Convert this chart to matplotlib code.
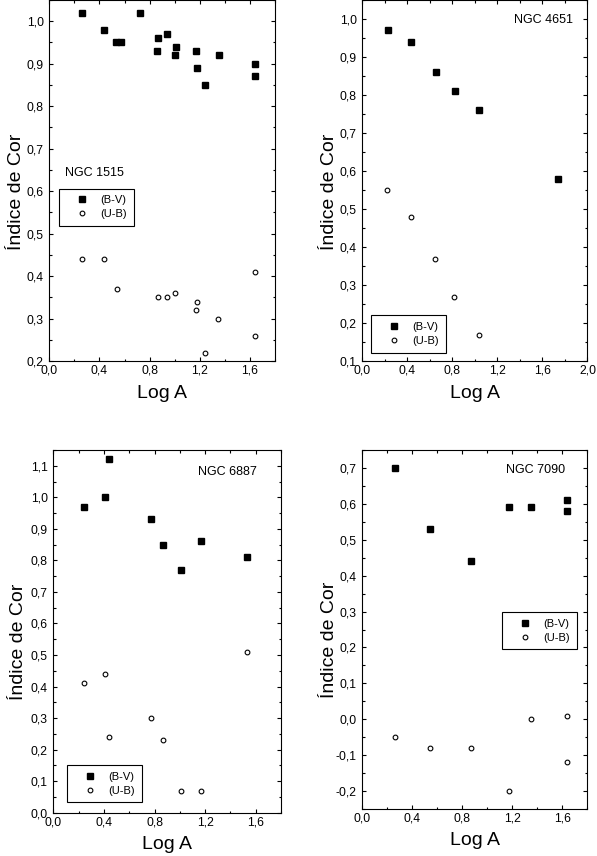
import matplotlib
matplotlib.use("Agg")
import matplotlib.pyplot as plt
from matplotlib.ticker import MultipleLocator, FuncFormatter

plt.rcParams['font.family'] = ['Liberation Sans', 'DejaVu Sans']

# NGC 1515
n1515_bv_x = [0.26, 0.44, 0.53, 0.57, 0.72, 0.87, 0.86, 0.94, 1.01, 1.00, 1.17, 1.18, 1.24, 1.35, 1.64, 1.64]
n1515_bv_y = [1.02, 0.98, 0.95, 0.95, 1.02, 0.96, 0.93, 0.97, 0.94, 0.92, 0.93, 0.89, 0.85, 0.92, 0.90, 0.87]
n1515_ub_x = [0.26, 0.44, 0.54, 0.87, 0.94, 1.00, 1.18, 1.17, 1.24, 1.345, 1.64, 1.64]
n1515_ub_y = [0.44, 0.44, 0.37, 0.35, 0.35, 0.36, 0.34, 0.32, 0.22, 0.30, 0.41, 0.26]

# NGC 4651
n4651_bv_x = [0.23, 0.43, 0.65, 0.82, 1.04, 1.74]
n4651_bv_y = [0.97, 0.94, 0.86, 0.81, 0.76, 0.58]
n4651_ub_x = [0.22, 0.43, 0.645, 0.81, 1.04]
n4651_ub_y = [0.55, 0.48, 0.37, 0.27, 0.17]

# NGC 6887
n6887_bv_x = [0.24, 0.41, 0.44, 0.77, 0.87, 1.01, 1.17, 1.53]
n6887_bv_y = [0.97, 1.00, 1.12, 0.93, 0.85, 0.77, 0.86, 0.81]
n6887_ub_x = [0.24, 0.41, 0.44, 0.77, 0.87, 1.01, 1.17, 1.53]
n6887_ub_y = [0.41, 0.44, 0.24, 0.30, 0.23, 0.07, 0.07, 0.51]

# NGC 7090
n7090_bv_x = [0.26, 0.54, 0.87, 1.17, 1.35, 1.64, 1.64]
n7090_bv_y = [0.70, 0.53, 0.44, 0.59, 0.59, 0.61, 0.58]
n7090_ub_x = [0.26, 0.54, 0.87, 1.17, 1.35, 1.64, 1.64]
n7090_ub_y = [-0.05, -0.08, -0.08, -0.20, 0.00, 0.01, -0.12]

fig = plt.figure(figsize=(5.97, 8.56), dpi=100)

comma = FuncFormatter(lambda v, p: ('%.1f' % v).replace('.', ','))


def panel(rect, bvx, bvy, ubx, uby, xlim, ylim, name, name_xy, leg_xy, ylab_x, xlab_y):
    ax = fig.add_axes(rect)
    ax.plot(bvx, bvy, 's', color='black', markersize=4.3, linestyle='none', label='(B-V)')
    ax.plot(ubx, uby, 'o', markerfacecolor='white', markeredgecolor='black',
            markersize=3.4, markeredgewidth=0.8, linestyle='none', label='(U-B)')
    ax.set_xlim(*xlim)
    ax.set_ylim(*ylim)
    ax.xaxis.set_major_locator(MultipleLocator(0.4))
    ax.xaxis.set_minor_locator(MultipleLocator(0.2))
    ax.yaxis.set_major_locator(MultipleLocator(0.1))
    ax.yaxis.set_minor_locator(MultipleLocator(0.05))
    ax.xaxis.set_major_formatter(comma)
    ax.yaxis.set_major_formatter(comma)
    ax.tick_params(which='both', direction='in', top=True, right=True, labelsize=8.7, width=0.8)
    ax.tick_params(which='major', length=3.2)
    ax.tick_params(which='minor', length=1.8)
    ax.tick_params(axis='x', pad=2.5)
    ax.tick_params(axis='y', pad=4.0)
    for s in ax.spines.values():
        s.set_linewidth(0.8)
    ax.set_xlabel('Log A', fontsize=14, va='center')
    ax.set_ylabel('Índice de Cor', fontsize=14, va='center')
    ax.xaxis.set_label_coords(0.5, xlab_y)
    ax.yaxis.set_label_coords(ylab_x, 0.47)
    ha = 'left' if name_xy[0] < 0.5 else 'right'
    ax.text(name_xy[0], name_xy[1], name, transform=ax.transAxes, fontsize=9,
            ha=ha, va='center')
    leg = ax.legend(loc='upper left', bbox_to_anchor=leg_xy, borderaxespad=0,
                    fontsize=8, frameon=True, fancybox=False, framealpha=1,
                    edgecolor='black', borderpad=0.6, handlelength=2.9,
                    handletextpad=0.2, labelspacing=0.35, numpoints=1)
    leg.get_frame().set_linewidth(0.8)
    return ax


panel([0.0826, 0.578, 0.378, 0.422], n1515_bv_x, n1515_bv_y, n1515_ub_x, n1515_ub_y,
      (0, 1.8), (0.2, 1.05), 'NGC 1515', (0.07, 0.522), (0.044, 0.478), -0.145, -0.088)
panel([0.607, 0.578, 0.377, 0.422], n4651_bv_x, n4651_bv_y, n4651_ub_x, n4651_ub_y,
      (0, 2.0), (0.1, 1.05), 'NGC 4651', (0.935, 0.945), (0.04, 0.127), -0.145, -0.088)
panel([0.0893, 0.0506, 0.3814, 0.4237], n6887_bv_x, n6887_bv_y, n6887_ub_x, n6887_ub_y,
      (0, 1.8), (0.0, 1.15), 'NGC 6887', (0.893, 0.94), (0.0615, 0.131), -0.155, -0.087)
panel([0.607, 0.0549, 0.377, 0.4194], n7090_bv_x, n7090_bv_y, n7090_ub_x, n7090_ub_y,
      (0, 1.8), (-0.25, 0.75), 'NGC 7090', (0.90, 0.944), (0.622, 0.548), -0.145, -0.088)

fig.savefig('out.png', dpi=100)
